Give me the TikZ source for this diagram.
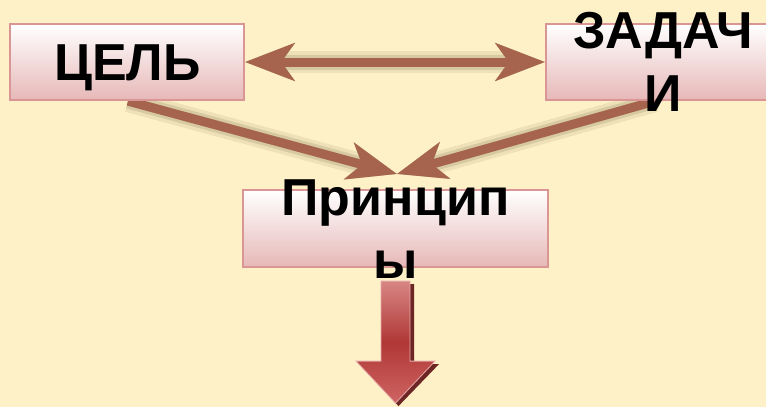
\documentclass[tikz,border=0pt]{standalone}
\usepackage{fontspec}
\setmainfont{Liberation Sans}
\usetikzlibrary{arrows.meta,calc}
\definecolor{bg}{RGB}{254,240,199}
\definecolor{arr}{RGB}{166,100,78}
\definecolor{boxline}{RGB}{218,150,148}
\definecolor{boxbot}{RGB}{230,184,183}
\definecolor{shad}{RGB}{100,85,50}
\definecolor{redtop}{RGB}{216,134,132}
\definecolor{redmid}{RGB}{176,56,54}
\definecolor{redbot}{RGB}{206,100,98}
\definecolor{reddark}{RGB}{110,38,36}
\tikzset{bigtip/.tip={Stealth[length=49pt,width=37pt,inset=13pt]}}
\begin{document}
\begin{tikzpicture}[x=1pt,y=-1pt,
  box/.style={draw=boxline,line width=2.2pt,top color=white,bottom color=boxbot,
    minimum width=234pt,minimum height=76pt,inner sep=0pt},
  lbl/.style={font=\bfseries\fontsize{52}{63}\selectfont,align=center,inner sep=0pt,text=black},
  arrowline/.style={draw=arr,line width=9pt},
  shadowA/.style={draw=shad,line width=22pt,opacity=0.10,shift={(2,9)}},
  shadowB/.style={draw=shad,line width=15pt,opacity=0.16,shift={(2,8)}},
  shadowC/.style={draw=shad,line width=9pt,opacity=0.22,shift={(2,7)}}
]
\useasboundingbox (0,0) rectangle (766,407);
\clip (0,0) rectangle (766,407);
\fill[bg] (0,0) rectangle (766,407);

% box positions (nodes, drawn later on top)
\path (127,62) coordinate (pcel);
\path (663,62) coordinate (pzad);
\path (395.5,228.5) coordinate (pprin);
\node[box,minimum width=234pt] (cel) at (pcel) {};
\node[box,minimum width=234pt] (zad) at (pzad) {};
\node[box,minimum width=305pt,minimum height=77pt] (prin) at (pprin) {};

\coordinate (meet) at (397,174);
\coordinate (zs) at ($(zad.south)+(-8,0)$);
\coordinate (cs) at ($(cel.south)+(1,0)$);

% shadows
\foreach \s in {shadowA,shadowB,shadowC}{
  \draw[\s,{bigtip}-{bigtip}] (cel.east) -- (zad.west);
  \draw[\s,-{bigtip}] (cs) -- (meet);
  \draw[\s,-{bigtip}] (zs) -- (meet);
}
% arrows
\draw[arrowline,{bigtip}-{bigtip}] (cel.east) -- (zad.west);
\draw[arrowline,-{bigtip}] (cs) -- (meet);
\draw[arrowline,-{bigtip}] (zs) -- (meet);

% boxes redrawn on top
\node[box,minimum width=234pt] at (pcel) {};
\node[box,minimum width=234pt] at (pzad) {};
\node[box,minimum width=305pt,minimum height=77pt] at (pprin) {};

% labels
\node[lbl,anchor=base] (celt) at ($(cel.center)+(0.5,18)$) {ЦЕЛЬ};
\node[lbl] (zadt) at ($(zad.center)+(0,-0.5)$) {ЗАДАЧ\\И};
\node[lbl] (print) at ($(prin.center)+(0,1)$) {Принцип\\ы};

% down block arrow
\coordinate (dtop) at ($(prin.south)+(0,13)$);
\fill[reddark] ($(dtop)+(-14.5+4,3)$) -- ($(dtop)+(14.5+4,3)$) -- ($(dtop)+(14.5+4,80+3)$)
  -- ($(dtop)+(39.5+4,80+3)$) -- ($(dtop)+(0+3,122+3)$) -- ($(dtop)+(-39.5+4,80+3)$)
  -- ($(dtop)+(-14.5+4,80+3)$) -- cycle;
\path[shading=axis,top color=redtop,bottom color=redbot,middle color=redmid,draw=redtop!70!white,line width=0.8pt]
  ($(dtop)+(-14.5,0)$) -- ($(dtop)+(14.5,0)$) -- ($(dtop)+(14.5,80)$)
  -- ($(dtop)+(39.5,80)$) -- ($(dtop)+(0,122)$) -- ($(dtop)+(-39.5,80)$)
  -- ($(dtop)+(-14.5,80)$) -- cycle;
\end{tikzpicture}
\end{document}
